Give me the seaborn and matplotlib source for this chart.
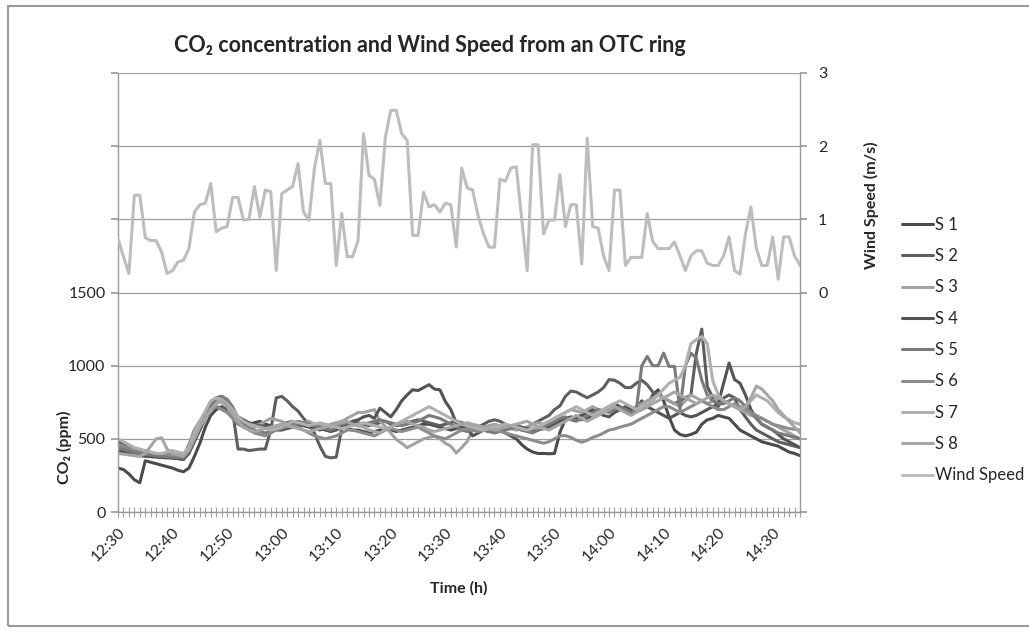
import matplotlib
matplotlib.use("Agg")
import matplotlib.pyplot as plt
from matplotlib.patches import Rectangle
import numpy as np
import pandas as pd
import seaborn as sns

# ---------------- data (one value per minute, 12:30 -> 14:35) ----------------
minutes = list(range(126))
tick_pos = [0, 10, 20, 30, 40, 50, 60, 70, 80, 90, 100, 110, 120]
tick_labels = ["12:30", "12:40", "12:50", "13:00", "13:10", "13:20", "13:30",
               "13:40", "13:50", "14:00", "14:10", "14:20", "14:30"]

s1 = [300, 290, 260, 220, 200, 350, 340, 330, 320, 310,
      300, 285, 275, 300, 380, 470, 580, 660, 700, 720,
      700, 680, 640, 620, 600, 610, 620, 600, 590, 580,
      600, 610, 620, 600, 590, 580, 570, 560, 580, 590,
      600, 590, 570, 560, 560, 550, 540, 550, 560, 570,
      560, 550, 560, 570, 580, 590, 600, 600, 590, 580,
      570, 560, 570, 580, 590, 580, 570, 560, 550, 560,
      560, 540, 520, 500, 460, 430, 410, 400, 400, 398,
      400, 545, 635, 640, 650, 660, 680, 700, 680, 700,
      720, 740, 720, 700, 680, 700, 760, 720, 800, 835,
      760, 650, 560, 530, 520, 530, 545, 600, 630, 640,
      660, 650, 640, 600, 560, 540, 520, 500, 480, 470,
      460, 450, 430, 410, 400, 385]
s2 = [480, 470, 450, 430, 410, 400, 395, 390, 380, 375,
      370, 365, 360, 420, 520, 600, 650, 700, 720, 710,
      700, 690, 430, 430, 420, 425, 430, 430, 560, 780,
      790, 760, 720, 690, 640, 600, 540, 450, 380, 370,
      375, 570, 600, 620, 610, 600, 590, 600, 610, 620,
      600, 590, 600, 610, 620, 630, 620, 610, 600, 590,
      600, 610, 620, 610, 600, 590, 580, 600, 620, 630,
      620, 600, 580, 570, 560, 580, 600, 620, 640, 660,
      700, 725, 790, 826, 820, 800, 781, 800, 820, 850,
      905, 900, 880, 850, 850, 880, 900, 870, 820, 800,
      780, 760, 740, 760, 780, 800, 1086, 1250, 860, 780,
      720, 780, 800, 780, 700, 650, 600, 560, 540, 520,
      500, 480, 470, 460, 450, 440]
s3 = [450, 440, 430, 420, 410, 400, 400, 395, 390, 385,
      380, 375, 370, 450, 560, 620, 680, 740, 760, 750,
      720, 660, 620, 600, 590, 580, 600, 620, 640, 630,
      620, 600, 590, 600, 610, 620, 600, 590, 580, 600,
      610, 620, 640, 660, 680, 680, 690, 700, 620, 585,
      540, 495, 470, 440, 460, 480, 500, 510, 518, 500,
      470, 450, 404, 440, 483, 560, 570, 580, 590, 600,
      590, 580, 570, 560, 570, 580, 600, 610, 600, 620,
      640, 660, 680, 700, 690, 680, 700, 720, 700, 690,
      700, 720, 700, 690, 700, 720, 740, 760, 780, 800,
      780, 760, 740, 720, 760, 800, 780, 760, 740, 760,
      780, 760, 740, 720, 700, 680, 660, 650, 640, 620,
      600, 580, 560, 540, 520, 500]
s4 = [420, 410, 400, 390, 385, 380, 378, 375, 372, 370,
      368, 365, 360, 400, 480, 560, 640, 720, 780, 790,
      760, 700, 650, 630, 610, 600, 590, 580, 570, 560,
      560, 570, 580, 590, 600, 590, 580, 570, 560, 550,
      560, 580, 600, 620, 630, 650, 660, 640, 710, 680,
      650, 700, 760, 800, 835, 830, 850, 870, 840, 835,
      755, 700, 608, 580, 570, 520, 540, 560, 560, 550,
      560, 570, 580, 590, 580, 570, 560, 560, 570, 580,
      600, 620, 640, 650, 640, 630, 640, 660, 680, 660,
      650, 680, 700, 720, 700, 690, 700, 720, 700, 680,
      660, 640, 660, 680, 660, 650, 660, 680, 700, 720,
      740, 880, 1018, 905, 880, 800, 700, 640, 600, 580,
      560, 530, 500, 480, 460, 440]
s5 = [440, 430, 420, 410, 400, 395, 390, 385, 380, 378,
      375, 372, 370, 430, 520, 600, 660, 720, 780, 790,
      770, 720, 640, 600, 570, 560, 550, 540, 550, 560,
      570, 580, 600, 620, 610, 600, 590, 580, 570, 560,
      580, 600, 610, 600, 590, 600, 610, 620, 630, 620,
      610, 600, 590, 600, 610, 620, 640, 660, 650, 640,
      620, 600, 580, 560, 550, 560, 570, 560, 550, 540,
      550, 560, 570, 580, 560, 550, 540, 560, 580, 600,
      620, 640, 650, 630, 620, 640, 660, 680, 700, 690,
      680, 700, 720, 700, 680, 700, 1000, 1063, 1000, 1000,
      1086, 995, 995, 700, 1000, 1086, 1050, 900, 800, 760,
      740, 740, 760, 780, 760, 720, 680, 640, 600, 580,
      560, 540, 530, 520, 510, 500]
s6 = [460, 450, 440, 430, 420, 410, 405, 400, 398, 395,
      390, 388, 385, 460, 560, 620, 660, 700, 720, 700,
      680, 640, 600, 580, 560, 540, 530, 520, 540, 560,
      580, 600, 590, 580, 560, 540, 520, 510, 500, 510,
      520, 540, 560, 560, 550, 540, 530, 520, 540, 560,
      570, 560, 550, 560, 570, 580, 560, 540, 520, 510,
      500, 520, 540, 560, 570, 560, 550, 560, 570, 560,
      550, 540, 530, 520, 510, 500, 490, 480, 470, 480,
      500, 520, 522, 510, 490, 477, 490, 510, 522, 540,
      560, 567, 580, 590, 600, 620, 640, 660, 680, 700,
      720, 720, 700, 680, 700, 720, 740, 760, 740, 720,
      700, 700, 720, 740, 720, 700, 680, 660, 640, 620,
      600, 590, 580, 570, 565, 560]
s7 = [500, 480, 460, 440, 430, 420, 410, 400, 400, 410,
      420, 410, 400, 440, 540, 620, 690, 760, 780, 770,
      740, 700, 650, 620, 600, 590, 580, 570, 560, 570,
      580, 600, 620, 610, 600, 590, 600, 610, 600, 590,
      580, 570, 580, 590, 600, 610, 600, 590, 580, 570,
      580, 600, 620, 640, 660, 680, 700, 720, 700, 680,
      660, 640, 620, 600, 590, 580, 570, 560, 570, 580,
      590, 600, 590, 580, 570, 560, 570, 580, 600, 620,
      640, 660, 680, 700, 720, 700, 680, 660, 680, 700,
      720, 740, 760, 740, 720, 700, 720, 740, 760, 800,
      840, 880, 900, 920, 1000, 1150, 1177, 1200, 1150, 900,
      800, 760, 740, 720, 700, 720, 760, 800, 780, 760,
      720, 680, 650, 630, 610, 600]
s8 = [400, 395, 390, 385, 380, 400, 450, 500, 507, 430,
      400, 390, 380, 420, 500, 580, 640, 700, 740, 760,
      730, 680, 620, 580, 560, 550, 560, 570, 580, 590,
      600, 590, 580, 570, 560, 550, 560, 570, 580, 590,
      600, 610, 620, 600, 590, 580, 560, 550, 540, 560,
      580, 600, 610, 620, 600, 590, 580, 560, 550, 560,
      570, 580, 590, 600, 610, 600, 590, 580, 570, 560,
      570, 580, 590, 600, 610, 620, 600, 580, 570, 560,
      580, 600, 620, 640, 660, 640, 620, 640, 660, 680,
      700, 720, 700, 680, 660, 680, 700, 720, 740, 760,
      780, 800, 820, 800, 780, 760, 740, 760, 780, 800,
      780, 760, 740, 720, 700, 720, 780, 860, 840, 800,
      760, 700, 660, 620, 580, 540]
wind = [0.74, 0.49, 0.26, 1.33, 1.33, 0.75, 0.71, 0.71, 0.55, 0.26,
        0.30, 0.42, 0.44, 0.60, 1.10, 1.20, 1.22, 1.49, 0.83, 0.88,
        0.90, 1.30, 1.30, 0.99, 1.00, 1.45, 1.03, 1.40, 1.38, 0.30,
        1.35, 1.40, 1.45, 1.76, 1.10, 0.99, 1.70, 2.08, 1.49, 1.49,
        0.37, 1.08, 0.49, 0.49, 0.71, 2.17, 1.60, 1.55, 1.19, 2.12,
        2.49, 2.49, 2.17, 2.08, 0.78, 0.78, 1.37, 1.17, 1.20, 1.10,
        1.22, 1.20, 0.62, 1.70, 1.43, 1.40, 1.05, 0.80, 0.62, 0.62,
        1.55, 1.52, 1.70, 1.72, 1.00, 0.30, 2.02, 2.02, 0.80, 0.99,
        0.99, 1.61, 0.90, 1.20, 1.20, 0.39, 2.11, 0.90, 0.88, 0.50,
        0.30, 1.40, 1.40, 0.37, 0.48, 0.48, 0.48, 1.08, 0.70, 0.60,
        0.60, 0.60, 0.69, 0.50, 0.30, 0.50, 0.57, 0.57, 0.40, 0.37,
        0.37, 0.50, 0.76, 0.30, 0.25, 0.80, 1.17, 0.60, 0.37, 0.37,
        0.76, 0.18, 0.76, 0.76, 0.50, 0.37]

series_names = ["S 1", "S 2", "S 3", "S 4", "S 5", "S 6", "S 7", "S 8"]
series_vals = [s1, s2, s3, s4, s5, s6, s7, s8]
series_colors = ["#4b4b4b", "#5e5e5e", "#a2a2a2", "#545454",
                 "#7a7a7a", "#8c8c8c", "#b0b0b0", "#a6a6a6"]
wind_color = "#bdbdbd"

# ---------------- figure ----------------
sns.set_theme(style="white")
plt.rcParams["font.family"] = ["Lato", "DejaVu Sans"]
text_color = "#262626"

fig = plt.figure(figsize=(10.29, 6.32), dpi=100)
ax = fig.add_axes([118 / 1029, 1 - 512 / 632, (800 - 118) / 1029, (512 - 73) / 632])

co2 = pd.DataFrame({
    "minute": np.tile(minutes, len(series_names)),
    "co2": np.concatenate([np.asarray(v, float) for v in series_vals]),
    "sensor": np.repeat(series_names, len(minutes)),
})
sns.lineplot(data=co2, x="minute", y="co2", hue="sensor",
             palette=dict(zip(series_names, series_colors)),
             linewidth=2.2, ax=ax, legend=True, sort=False)
handles, labels = ax.get_legend_handles_labels()
ax.get_legend().remove()

ax.set_xlim(0, 125)
ax.set_ylim(0, 3000)
ax.set_yticks([0, 500, 1000, 1500, 2000, 2500, 3000])
ax.set_yticklabels(["0", "500", "1000", "1500", "", "", ""])
ax.set_xticks(tick_pos)
ax.set_xticklabels(tick_labels, rotation=45, ha="right", rotation_mode="anchor")
ax.set_xticks(minutes, minor=True)
ax.grid(axis="y", color="#9e9e9e", linewidth=0.9)
ax.grid(axis="x", visible=False)
for side in ["left", "bottom"]:
    ax.spines[side].set_color("#9a9a9a")
    ax.spines[side].set_linewidth(1.0)
ax.spines["top"].set_visible(False)
ax.spines["right"].set_visible(False)
ax.tick_params(axis="y", which="major", left=True, length=5, color="#9a9a9a",
               labelsize=11.5, labelcolor=text_color, pad=4)
ax.tick_params(axis="x", which="both", bottom=True, direction="inout", length=7,
               width=0.8, color="#a0a0a0")
ax.tick_params(axis="x", which="major", labelsize=11.5, labelcolor=text_color, pad=6)
ax.set_xlabel("Time (h)", fontsize=11.5, fontweight="bold", color=text_color, labelpad=12)
ax.set_ylabel("")

ax2 = ax.twinx()
wdf = pd.DataFrame({"minute": minutes, "wind": wind})
sns.lineplot(data=wdf, x="minute", y="wind", color=wind_color, linewidth=2.2,
             ax=ax2, label="Wind Speed", sort=False)
h2, l2 = ax2.get_legend_handles_labels()
ax2.get_legend().remove()
ax2.set_ylim(-3, 3)
ax2.set_yticks([-3, -2, -1, 0, 1, 2, 3])
ax2.set_yticklabels(["", "", "", "0", "1", "2", "3"])
for side in ["left", "bottom", "top"]:
    ax2.spines[side].set_visible(False)
ax2.spines["right"].set_color("#9a9a9a")
ax2.spines["right"].set_linewidth(1.0)
ax2.tick_params(axis="y", right=True, length=5, color="#9a9a9a", labelsize=11.5,
                labelcolor=text_color, pad=8)
ax2.set_ylabel("")
ax2.set_xlim(0, 125)

# axis titles
fig.text(64 / 1029, 1 - 447 / 632, "CO₂ (ppm)", rotation=90, ha="center", va="center",
         fontsize=11.5, fontweight="bold", color=text_color)
fig.text(871 / 1029, 1 - 205 / 632, "Wind Speed (m/s)", rotation=90, ha="center",
         va="center", fontsize=11.5, fontweight="bold", color=text_color)
fig.text(430 / 1029, 1 - 45 / 632, "CO₂ concentration and Wind Speed from an OTC ring",
         ha="center", va="center", fontsize=15.5, fontweight="bold", color=text_color)

fig.legend(handles + h2, labels + l2, loc="upper left",
           bbox_to_anchor=(895 / 1029, 1 - 210 / 632), frameon=False, fontsize=12,
           handlelength=1.9, handletextpad=0.1, labelspacing=0.92, borderaxespad=0,
           labelcolor=text_color)

fig.add_artist(Rectangle((8 / 1029, 6 / 632), 1.2, 620 / 632, transform=fig.transFigure,
                         fill=False, ec="#9a9a9a", lw=1.5))

fig.savefig("out.png", dpi=100)
